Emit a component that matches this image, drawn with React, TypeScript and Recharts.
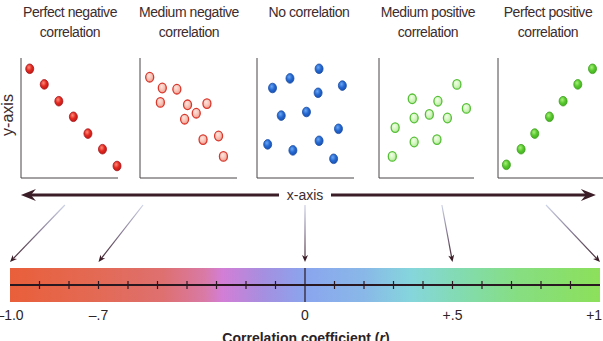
import React from 'react'
import { ReferenceArea, ReferenceLine, Scatter, ScatterChart, XAxis, YAxis } from 'recharts'

type Pt = { x: number; y: number }

// scatter panels, x and y on a 0..10 grid
const perfectNegative: Pt[] = [
  { x: 0.9, y: 9.1 }, { x: 2.4, y: 7.8 }, { x: 3.9, y: 6.4 }, { x: 5.4, y: 5.1 },
  { x: 6.9, y: 3.7 }, { x: 8.4, y: 2.4 }, { x: 9.9, y: 1.0 },
]
const mediumNegative: Pt[] = [
  { x: 1.0, y: 8.4 }, { x: 2.3, y: 7.5 }, { x: 3.8, y: 7.4 }, { x: 2.1, y: 6.3 },
  { x: 4.9, y: 6.1 }, { x: 6.9, y: 6.2 }, { x: 5.8, y: 5.4 }, { x: 4.6, y: 4.9 },
  { x: 6.5, y: 3.2 }, { x: 8.1, y: 3.5 }, { x: 8.6, y: 1.8 },
]
const noCorrelation: Pt[] = [
  { x: 6.4, y: 9.1 }, { x: 3.4, y: 8.3 }, { x: 1.6, y: 7.5 }, { x: 6.3, y: 7.1 },
  { x: 8.8, y: 7.7 }, { x: 2.5, y: 5.2 }, { x: 5.1, y: 5.5 }, { x: 8.4, y: 4.1 },
  { x: 1.1, y: 2.8 }, { x: 3.7, y: 2.3 }, { x: 6.4, y: 3.1 }, { x: 7.9, y: 1.6 },
]
const mediumPositive: Pt[] = [
  { x: 8.2, y: 7.8 }, { x: 3.5, y: 6.6 }, { x: 6.2, y: 6.4 }, { x: 9.2, y: 5.8 },
  { x: 3.7, y: 5.0 }, { x: 5.3, y: 5.3 }, { x: 7.2, y: 5.0 }, { x: 1.7, y: 4.2 },
  { x: 3.7, y: 3.0 }, { x: 6.1, y: 3.2 }, { x: 1.4, y: 1.8 },
]
const perfectPositive: Pt[] = [
  { x: 0.8, y: 1.1 }, { x: 2.2, y: 2.4 }, { x: 3.5, y: 3.7 }, { x: 4.9, y: 5.1 },
  { x: 6.2, y: 6.4 }, { x: 7.6, y: 7.8 }, { x: 9.0, y: 9.1 },
]

const panelTitles = [
  ['Perfect negative', 'correlation'],
  ['Medium negative', 'correlation'],
  ['No correlation'],
  ['Medium positive', 'correlation'],
  ['Perfect positive', 'correlation'],
]

// correlation scale
const scaleTicks = [-1, -0.7, 0, 0.5, 1]
const scaleTickLabels = ['–1.0', '–.7', '0', '+.5', '+1.0']
const minorTicks = [
  -0.9, -0.8, -0.7, -0.6, -0.5, -0.4, -0.3, -0.2, -0.1,
  0.1, 0.2, 0.3, 0.4, 0.5, 0.6, 0.7, 0.8, 0.9,
]
const pointerTargets = [-1, -0.7, 0, 0.5, 1]

// layout
const W = 603
const H = 341
const FONT = '"Liberation Sans", Arial, sans-serif'
const TEXT = '#3d2c2e'
const DARK = '#3b1d28'
const PANEL_TOP = 58
const PANEL_H = 120
const panelLefts = [21, 140, 257, 379, 498]
const panelWidths = [97, 97, 97, 95, 105]
const titleCenters = [70, 189, 309, 428, 548]
const pointerSources = [-0.814, -0.549, 0, 0.464, 0.817]

// bottom chart levels (y domain 0..112, bar sits at 0)
const BAR_TOP = 34
const LINE_Y = 17
const AXIS_Y = 107
const POINTER_TOP = 97
const POINTER_END = 40
const AXIS_FROM = -0.963
const AXIS_TO = 0.986

const scaleStops: [number, string][] = [
  [0, '#e95f3a'],
  [0.15, '#e36a55'],
  [0.26, '#de7070'],
  [0.33, '#d97aa6'],
  [0.36, '#d27ed6'],
  [0.43, '#a58fe0'],
  [0.5, '#8aa5ee'],
  [0.6, '#89b8e8'],
  [0.68, '#85d6dc'],
  [0.76, '#82dbb2'],
  [0.86, '#86de82'],
  [1, '#8ce05a'],
]

const makeDot = (fill: string, stroke: string, sw: number) => (p: any) => (
  <ellipse cx={p.cx} cy={p.cy} rx={4} ry={4.8} fill={fill} stroke={stroke} strokeWidth={sw} />
)

const panelData = [perfectNegative, mediumNegative, noCorrelation, mediumPositive, perfectPositive]
const panelDots = [
  makeDot('url(#dotRed)', '#a8141a', 0.8),
  makeDot('url(#dotPink)', '#d8372c', 1.3),
  makeDot('url(#dotBlue)', '#1b4ea6', 0.8),
  makeDot('url(#dotMint)', '#55bf36', 1.3),
  makeDot('url(#dotGreen)', '#3a9e1a', 0.8),
]

function Defs() {
  const radial = (id: string, a: string, b: string, c: string) => (
    <radialGradient id={id} cx="40%" cy="35%" r="65%">
      <stop offset="0%" stopColor={a} />
      <stop offset="55%" stopColor={b} />
      <stop offset="100%" stopColor={c} />
    </radialGradient>
  )
  return (
    <svg width={0} height={0} style={{ position: 'absolute' }}>
      <defs>
        {radial('dotRed', '#ff8a78', '#e2281f', '#c01a16')}
        {radial('dotPink', '#fde4dc', '#f8c4b8', '#f09c8c')}
        {radial('dotBlue', '#6aa6f4', '#2468d0', '#1a52b4')}
        {radial('dotMint', '#f2fde8', '#d4f6c0', '#b0e896')}
        {radial('dotGreen', '#a8f07a', '#58c82e', '#44b020')}
        <linearGradient id="scaleGrad" x1="0" y1="0" x2="1" y2="0">
          {scaleStops.map(([o, c]) => (
            <stop key={o} offset={o} stopColor={c} />
          ))}
        </linearGradient>
      </defs>
    </svg>
  )
}

function Panel({ data, left, width, dot }: { data: Pt[]; left: number; width: number; dot: any }) {
  return (
    <div style={{ position: 'absolute', left: left - 2, top: PANEL_TOP - 6 }}>
      <ScatterChart width={width + 8} height={PANEL_H + 8} margin={{ top: 6, right: 6, bottom: 1, left: 1 }}>
        <XAxis type="number" dataKey="x" domain={[0, 10]} height={1} tick={false} tickLine={false} axisLine={{ stroke: '#4a4446', strokeWidth: 1 }} />
        <YAxis type="number" dataKey="y" domain={[0, 10]} width={1} tick={false} tickLine={false} axisLine={{ stroke: '#4a4446', strokeWidth: 1 }} />
        <Scatter data={data} shape={dot} isAnimationActive={false} />
      </ScatterChart>
    </div>
  )
}

// double-headed x-axis arrow with its caption in a gap
function AxisArrow(p: any) {
  const { x1, x2, y1 } = p
  const y = y1
  const cx = x1 + ((0 - AXIS_FROM) / (AXIS_TO - AXIS_FROM)) * (x2 - x1)
  return (
    <g>
      <line x1={x1 + 8} x2={x2 - 8} y1={y} y2={y} stroke={DARK} strokeWidth={3} />
      <path d={`M${x1},${y} L${x1 + 15},${y - 6} L${x1 + 10},${y} L${x1 + 15},${y + 6} Z`} fill={DARK} />
      <path d={`M${x2},${y} L${x2 - 15},${y - 6} L${x2 - 10},${y} L${x2 - 15},${y + 6} Z`} fill={DARK} />
      <rect x={cx - 26} y={y - 9} width={52} height={18} fill="#ffffff" />
      <text x={cx} y={y + 5} textAnchor="middle" fontSize={14} fill={TEXT} fontFamily={FONT}>
        x-axis
      </text>
    </g>
  )
}

const makePointer = (id: string) => (p: any) => {
  const { x1, y1, x2, y2 } = p
  const dx = x2 - x1
  const dy = y2 - y1
  const len = Math.sqrt(dx * dx + dy * dy)
  const ux = dx / len
  const uy = dy / len
  const bx = x2 - ux * 7
  const by = y2 - uy * 7
  const nx = -uy * 3
  const ny = ux * 3
  return (
    <g>
      <defs>
        <linearGradient id={id} gradientUnits="userSpaceOnUse" x1={x1} y1={y1} x2={x2} y2={y2}>
          <stop offset="0" stopColor="#cdd3e6" />
          <stop offset="0.45" stopColor="#8a7f98" />
          <stop offset="1" stopColor={DARK} />
        </linearGradient>
      </defs>
      <line x1={x1} y1={y1} x2={bx + ux * 2} y2={by + uy * 2} stroke={`url(#${id})`} strokeWidth={1.2} />
      <path d={`M${x2},${y2} L${bx + nx},${by + ny} L${bx + ux * 2},${by + uy * 2} L${bx - nx},${by - ny} Z`} fill={DARK} />
    </g>
  )
}

const minorTickShape = (p: any) => (
  <line x1={p.cx} x2={p.cx} y1={p.cy - 4} y2={p.cy + 4} stroke="#2a1820" strokeWidth={1.2} />
)

function ScaleChart() {
  const tickData = minorTicks.map((r) => ({ r, y: LINE_Y }))
  return (
    <div style={{ position: 'absolute', left: 0, top: 185 }}>
      <ScatterChart width={W} height={160} margin={{ top: 5, right: 3, bottom: 0, left: 10 }}>
        <XAxis
          type="number"
          dataKey="r"
          domain={[-1, 1]}
          ticks={scaleTicks}
          interval={0}
          tickFormatter={(v: number) => scaleTickLabels[scaleTicks.indexOf(v)]}
          axisLine={false}
          tickLine={false}
          tickSize={6}
          tickMargin={2}
          height={43}
          tick={{ fill: '#2b2326', fontSize: 14, fontFamily: FONT }}
        />
        <YAxis type="number" dataKey="y" domain={[0, 112]} hide />
        <ReferenceArea x1={-1} x2={1} y1={0} y2={BAR_TOP} fill="url(#scaleGrad)" fillOpacity={1} stroke="none" />
        <ReferenceLine segment={[{ x: -1, y: LINE_Y }, { x: 1, y: LINE_Y }]} stroke="#2a1820" strokeWidth={2} />
        <ReferenceLine segment={[{ x: 0, y: 0 }, { x: 0, y: BAR_TOP }]} stroke="#2a1820" strokeWidth={1.2} />
        <Scatter data={tickData} shape={minorTickShape} isAnimationActive={false} />
        <ReferenceLine segment={[{ x: AXIS_FROM, y: AXIS_Y }, { x: AXIS_TO, y: AXIS_Y }]} shape={AxisArrow} />
        {pointerTargets.map((r, i) => (
          <ReferenceLine
            key={r}
            segment={[{ x: pointerSources[i], y: POINTER_TOP }, { x: r, y: POINTER_END }]}
            shape={makePointer(`pointer${i}`)}
          />
        ))}
      </ScatterChart>
    </div>
  )
}

export default function App() {
  return (
    <div
      style={{
        position: 'fixed',
        left: 0,
        top: 0,
        width: W,
        height: H,
        overflow: 'hidden',
        background: '#ffffff',
        fontFamily: FONT,
        color: TEXT,
      }}
    >
      <Defs />
      {panelTitles.map((lines, i) => (
        <div
          key={i}
          style={{
            position: 'absolute',
            left: titleCenters[i] - 70,
            top: 2,
            width: 140,
            textAlign: 'center',
            fontSize: 14,
            lineHeight: '20px',
            letterSpacing: '-0.45px',
            whiteSpace: 'nowrap',
          }}
        >
          {lines.map((l) => (
            <div key={l}>{l}</div>
          ))}
        </div>
      ))}
      <div
        style={{
          position: 'absolute',
          left: 8 - 30,
          top: 115 - 10,
          width: 60,
          height: 20,
          lineHeight: '20px',
          fontSize: 16,
          textAlign: 'center',
          transform: 'rotate(-90deg)',
        }}
      >
        y-axis
      </div>
      {panelData.map((d, i) => (
        <Panel key={i} data={d} left={panelLefts[i]} width={panelWidths[i]} dot={panelDots[i]} />
      ))}
      <ScaleChart />
      <div
        style={{
          position: 'absolute',
          left: 306 - 120,
          top: 330,
          width: 240,
          textAlign: 'center',
          fontSize: 14,
          lineHeight: '16px',
          fontWeight: 700,
          color: '#2b2326',
        }}
      >
        Correlation coefficient (<i>r</i>)
      </div>
    </div>
  )
}
